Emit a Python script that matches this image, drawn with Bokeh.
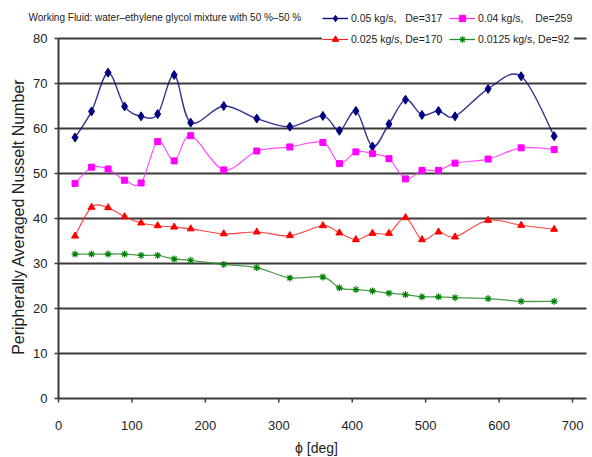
import numpy as np
from bokeh.plotting import figure
from bokeh.models import Legend, LegendItem, Label
from bokeh.core.properties import value
from bokeh.embed import file_html
from bokeh.resources import INLINE

# circumferential angle of the measuring stations [deg]
phi = [22.5, 45, 67.5, 90, 112.5, 135, 157.5, 180, 225, 270, 315, 360,
       382.5, 405, 427.5, 450, 472.5, 495, 517.5, 540, 585, 630, 675]

# peripherally averaged Nusselt number per mass flow rate
nu_0050 = [58.0, 63.8, 72.4, 64.9, 62.7, 63.2, 71.9, 61.3, 65.0, 62.2, 60.4, 62.8,
           59.5, 63.9, 56.0, 61.0, 66.4, 63.0, 63.9, 62.7, 68.8, 71.6, 58.3]
nu_0040 = [47.8, 51.4, 51.0, 48.5, 47.9, 57.1, 52.8, 58.4, 50.8, 55.0, 55.9, 56.9,
           52.2, 54.8, 54.4, 53.3, 48.8, 50.7, 50.7, 52.3, 53.2, 55.7, 55.3]
nu_0025 = [36.1, 42.5, 42.4, 40.4, 39.0, 38.4, 38.1, 37.7, 36.6, 37.0, 36.2, 38.4,
           36.8, 35.3, 36.7, 36.7, 40.2, 35.3, 37.0, 35.9, 39.6, 38.5, 37.6]
nu_0125 = [32.1, 32.1, 32.1, 32.1, 31.8, 31.8, 31.0, 30.7, 29.8, 29.1, 26.8, 27.0,
           24.6, 24.2, 23.9, 23.4, 23.1, 22.6, 22.6, 22.4, 22.2, 21.6, 21.6]

NB = "\u00a0"
series_labels = ["0.05 kg/s," + NB * 3 + "De=317",
                 "0.04 kg/s," + NB * 4 + "De=259",
                 "0.025 kg/s, De=170",
                 "0.0125 kg/s, De=92"]

x_ticks = [0, 100, 200, 300, 400, 500, 600, 700]
x_tick_labels = [str(t) for t in x_ticks]
y_ticks = [0, 10, 20, 30, 40, 50, 60, 70, 80]
y_tick_labels = [str(t) for t in y_ticks]

FONT = "Liberation Sans"
GRID = "#3a3a3a"
TEXT = "#222222"

# the frame fills the whole page; axes, ticks and labels are drawn as glyphs
# so that the heading and the legend above the plot area are not clipped
X_START, X_END = -79.0, 727.2
Y_START, Y_END = -13.11, 88.44
X_GRID_END = 719.0

p = figure(width=592, height=457, output_backend="svg", toolbar_location=None,
           x_range=(X_START, X_END), y_range=(Y_START, Y_END),
           x_axis_location=None, y_axis_location=None,
           min_border_left=0, min_border_right=0, min_border_top=0,
           min_border_bottom=0)
p.outline_line_color = None
p.background_fill_color = "white"
p.border_fill_color = "white"
p.grid.visible = False

# horizontal grid lines, starting at the value axis
grid_y = y_ticks[1:]
p.segment(x0=[0] * len(grid_y), y0=grid_y, x1=[X_GRID_END] * len(grid_y), y1=grid_y,
          line_color=GRID, line_width=2)

# value axis: line, ticks, tick labels and title
p.segment(x0=[0], y0=[0], x1=[0], y1=[y_ticks[-1]], line_color=GRID, line_width=2)
p.ray(x=[0] * len(y_ticks), y=y_ticks, length=4, length_units="screen",
      angle=np.pi, line_color=GRID, line_width=1.5)
p.text(x=[0] * len(y_ticks), y=y_ticks, text=y_tick_labels, x_offset=-11,
       text_align="right", text_baseline="middle", text_font=value(FONT),
       text_font_size="13px", text_color=TEXT)
p.text(x=[0], y=[40.4], text=["Peripherally Averaged Nusselt Number"],
       angle=np.pi / 2, x_offset=-40, text_align="center", text_baseline="middle",
       text_font=value(FONT), text_font_size="16px", text_color=TEXT)

# angle axis: line, ticks, tick labels and title
p.segment(x0=[0], y0=[0], x1=[X_GRID_END], y1=[0], line_color=GRID, line_width=2)
p.ray(x=x_ticks, y=[0] * len(x_ticks), length=4, length_units="screen",
      angle=-np.pi / 2, line_color=GRID, line_width=1.5)
p.text(x=x_ticks, y=[-6.0] * len(x_ticks), text=x_tick_labels,
       text_align="center", text_baseline="middle", text_font=value(FONT),
       text_font_size="13px", text_color=TEXT)
p.text(x=[351.4], y=[-10.9], text=["\u03d5 [deg]"],
       text_align="center", text_baseline="middle", text_font=value(FONT),
       text_font_size="14px", text_color=TEXT)


def smooth_bezier(xs, ys):
    """Control points of a Catmull-Rom style smoothed curve through the data."""
    x = np.asarray(xs, float)
    y = np.asarray(ys, float)
    n = len(x)
    xp = np.concatenate([[x[0]], x, [x[-1]]])
    yp = np.concatenate([[y[0]], y, [y[-1]]])
    k = 1.0 / 6.0
    i = np.arange(n - 1) + 1
    cx0 = xp[i] + (xp[i + 1] - xp[i - 1]) * k
    cy0 = yp[i] + (yp[i + 1] - yp[i - 1]) * k
    cx1 = xp[i + 1] - (xp[i + 2] - xp[i]) * k
    cy1 = yp[i + 1] - (yp[i + 2] - yp[i]) * k
    return dict(x0=x[:-1], y0=y[:-1], x1=x[1:], y1=y[1:],
                cx0=cx0, cy0=cy0, cx1=cx1, cy1=cy1)


styles = [
    (nu_0050, "#10107a", "#000080", "diamond", 9, 1.4, 1),
    (nu_0040, "#ff30ff", "#ff00ff", "square", 6, 1.2, 1),
    (nu_0025, "#ff2020", "#ff0000", "triangle", 7, 1.1, 1),
    (nu_0125, "#2e8b2e", "#008000", "asterisk", 7, 1.3, 1.2),
]

items = []
for (vals, lcol, mcol, marker, size, lw, mlw), label in zip(styles, series_labels):
    seg = smooth_bezier(phi, vals)
    p.bezier(line_color=lcol, line_width=lw, line_alpha=0.85, **seg)
    proxy = p.line(x=[np.nan], y=[np.nan], line_color=lcol, line_width=lw)
    pts = p.scatter(phi, vals, marker=marker, size=size, fill_color=mcol,
                    line_color=mcol, line_width=mlw)
    items.append(LegendItem(label=label, renderers=[proxy, pts]))

legend = Legend(items=items, orientation="horizontal", ncols=2,
                location=(322, 409), padding=3, margin=0, spacing=2,
                glyph_width=26, glyph_height=16, label_standoff=3,
                label_width=96, label_height=19,
                label_text_font=FONT, label_text_font_size="10.5px",
                label_text_color=TEXT,
                border_line_color=None, background_fill_color="white",
                background_fill_alpha=1.0)
p.add_layout(legend, "center")

title = Label(x=28, y=440, x_units="screen", y_units="screen",
              text="Working Fluid: water\u2013ethylene glycol mixture with 50 %\u201350 %",
              text_font=FONT, text_font_size="10px", text_color=TEXT,
              text_baseline="middle")
p.add_layout(title)

open("out.html", "w").write(file_html(p, INLINE))
